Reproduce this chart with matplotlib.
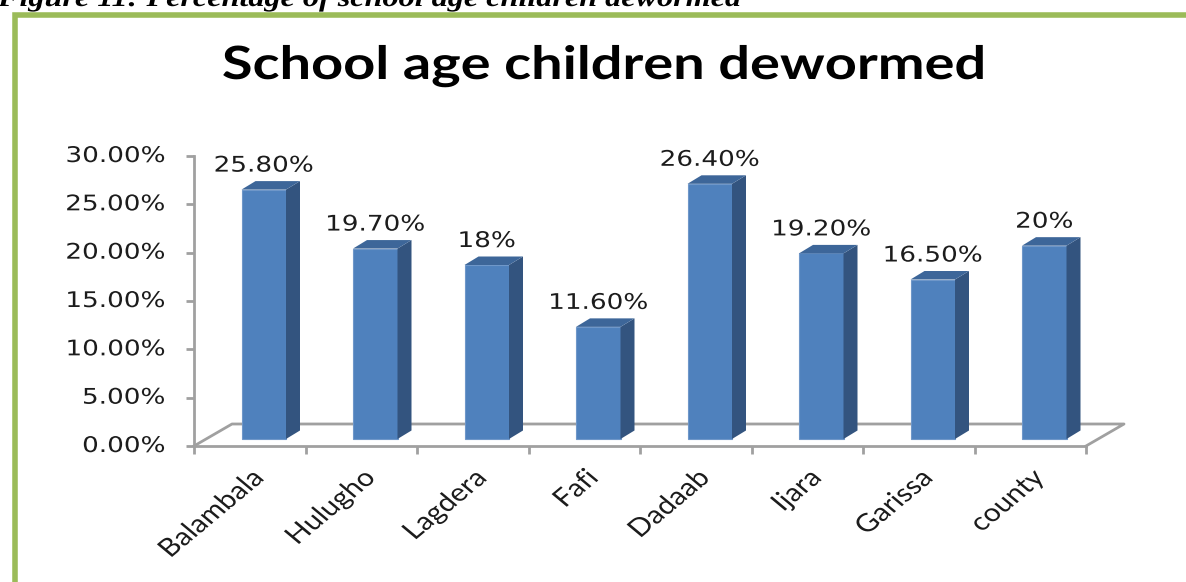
import matplotlib
matplotlib.use("Agg")
import matplotlib.pyplot as plt
from matplotlib.patches import Polygon, Rectangle
from matplotlib.patheffects import AbstractPathEffect
from matplotlib.transforms import Affine2D

# --- data ---
DISTRICTS = ["Balambala", "Hulugho", "Lagdera", "Fafi", "Dadaab", "Ijara",
             "Garissa", "county"]
DEWORMED = [25.8, 19.7, 18.0, 11.6, 26.4, 19.2, 16.5, 20.0]
VALUE_TEXT = ["25.80%", "19.70%", "18%", "11.60%", "26.40%", "19.20%",
              "16.50%", "20%"]
Y_TICKS = [0, 5, 10, 15, 20, 25, 30]

TITLE = "School age children dewormed"
CAPTION = "Figure 11: Percentage of school age children dewormed"

# --- look ---
W, H = 1186, 582
FRONT, SIDE, TOP = "#4F81BD", "#33547F", "#3D6699"
GRID = "#A0A0A0"
INK = "#1C1C1C"
GREEN = "#9BBB59"
WIDEN = 1.22          # horizontal widening of all lettering

# plot box in pixels (x of first/last category edge, y of 0% and 30%)
PX_L, PX_R, PX_0, PX_30 = 194, 1086, 446, 156
UX = (PX_R - PX_L) / len(DISTRICTS)      # px per category
UY = (PX_0 - PX_30) / Y_TICKS[-1]        # px per percent

# fake perspective, in data units
FLOOR_DX, FLOOR_DY = 38 / UX, 22 / UY
BAR_OFF, BAR_W, BAR_LIFT = 47.5 / UX, 44.5 / UX, 7 / UY
BAR_DX, BAR_DY = 14 / UX, 8.5 / UY


class Widen(AbstractPathEffect):
    """Stretch glyphs horizontally (screen x) about one end of the text."""

    def __init__(self, sx, anchor="center"):
        super().__init__()
        self.sx, self.anchor = sx, anchor

    def draw_path(self, renderer, gc, tpath, affine, rgbFace=None):
        ext = tpath.get_extents()
        px = {"left": ext.x0, "right": ext.x1,
              "center": 0.5 * (ext.x0 + ext.x1)}[self.anchor]
        ox, oy = affine.transform((px, 0))
        sk = Affine2D().translate(-ox, -oy).scale(self.sx, 1).translate(ox, oy)
        renderer.draw_path(gc, tpath, affine + sk, rgbFace)


fig = plt.figure(figsize=(W / 100, H / 100), dpi=100)
ax = fig.add_axes([PX_L / W, 1 - PX_0 / H, (PX_R - PX_L) / W, (PX_0 - PX_30) / H])
ax.set_xlim(0, len(DISTRICTS))
ax.set_ylim(0, Y_TICKS[-1])
ax.patch.set_visible(False)
for s in ("top", "right"):
    ax.spines[s].set_visible(False)
for s in ("left", "bottom"):
    ax.spines[s].set_color(GRID)
    ax.spines[s].set_linewidth(2)

ax.set_yticks(Y_TICKS, labels=[])
ax.set_xticks(range(len(DISTRICTS) + 1), labels=[])
ax.tick_params(length=6, width=2, color=GRID)

# floor outline (back + side edges)
n = len(DISTRICTS)
ax.plot([0, FLOOR_DX, n + FLOOR_DX, n], [0, FLOOR_DY, FLOOR_DY, 0],
        color=GRID, lw=2, clip_on=False, zorder=1)

# bars: front faces through ax.bar, side and top as polygons
xs = [i + BAR_OFF for i in range(n)]
ax.bar(xs, DEWORMED, width=BAR_W, bottom=BAR_LIFT, align="edge",
       color=FRONT, edgecolor="#6F97C9", linewidth=0.8, zorder=3, clip_on=False)
for x0, v in zip(xs, DEWORMED):
    x1, y0, y1 = x0 + BAR_W, BAR_LIFT, BAR_LIFT + v
    ax.add_patch(Polygon([(x1, y0), (x1 + BAR_DX, y0 + BAR_DY),
                          (x1 + BAR_DX, y1 + BAR_DY), (x1, y1)],
                         closed=True, facecolor=SIDE, edgecolor="none",
                         zorder=3, clip_on=False))
    ax.add_patch(Polygon([(x0, y1), (x1, y1), (x1 + BAR_DX, y1 + BAR_DY),
                          (x0 + BAR_DX, y1 + BAR_DY)],
                         closed=True, facecolor=TOP, edgecolor="none",
                         zorder=3, clip_on=False))

# value labels above each bar
for x0, v, txt in zip(xs, DEWORMED, VALUE_TEXT):
    ax.text(x0 + BAR_W / 2, BAR_LIFT + v + 18 / UY, txt, ha="center",
            va="baseline", fontsize=15.5, color=INK, family="DejaVu Sans",
            path_effects=[Widen(WIDEN, "center")], clip_on=False)

# y tick labels
for t in Y_TICKS:
    ax.text(-29 / UX, t, f"{t:.2f}%", ha="right", va="center", fontsize=15.5,
            color=INK, family="DejaVu Sans",
            path_effects=[Widen(WIDEN, "right")], clip_on=False)

# category labels, slanted
for i, name in enumerate(DISTRICTS):
    ax.text(i + 0.5 + 10 / UX, -28 / UY, name, ha="right", va="center",
            rotation=45, rotation_mode="anchor", fontsize=18, color=INK,
            family="Lato", path_effects=[Widen(1.2, "right")], clip_on=False)

# title and the clipped caption above the frame
fig.text(0.5 * (225 + 983) / W, 1 - 79 / H, TITLE, ha="center",
         va="baseline", fontsize=33, fontweight="bold", family="Lato",
         color="black", path_effects=[Widen(WIDEN, "center")])
fig.text(-2 / W, 1 - 6 / H, CAPTION, ha="left", va="baseline", fontsize=19,
         fontweight="bold", fontstyle="italic", family="Liberation Serif",
         color="black", path_effects=[Widen(WIDEN, "left")])

# green frame: only the top and left edges are in view
fig.add_artist(Rectangle((15 / W, -0.1), 2, 1.1 - 15 / H,
                         transform=fig.transFigure, fill=False,
                         edgecolor=GREEN, linewidth=4))

fig.savefig("out.png", dpi=100)
